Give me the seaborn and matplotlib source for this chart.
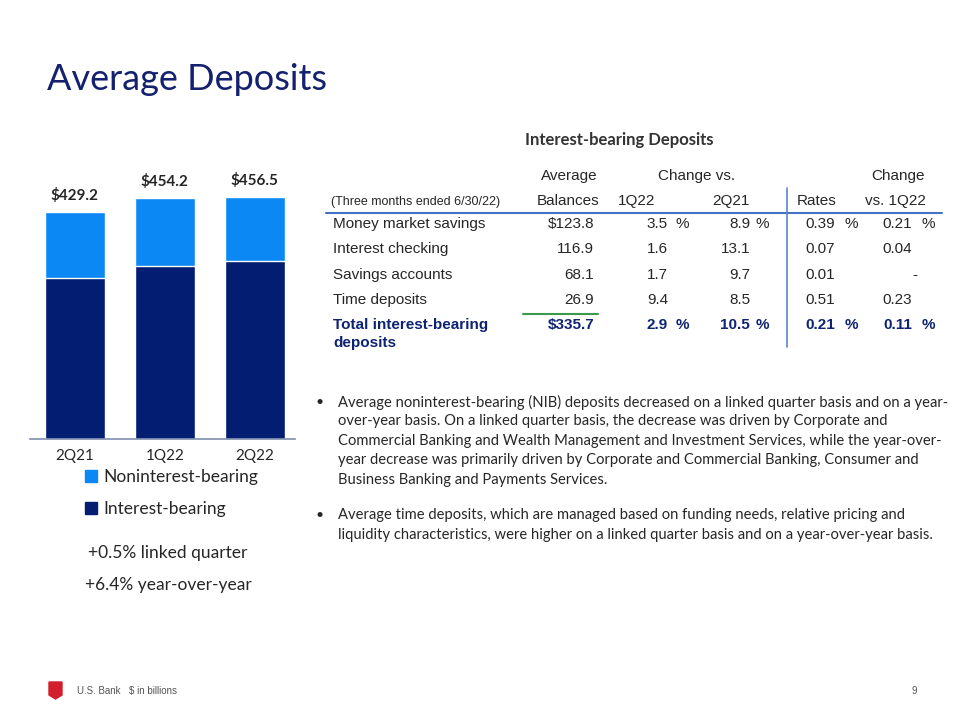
import matplotlib

matplotlib.use("Agg")

import matplotlib.pyplot as plt
import seaborn as sns
from matplotlib.patches import Polygon, Patch
from matplotlib.lines import Line2D

# ---- data -------------------------------------------------------------
quarters = ["2Q21", "1Q22", "2Q22"]
interest_bearing = [303.8, 326.2, 335.7]
noninterest_bearing = [125.4, 128.0, 120.8]
totals = [ib + nib for ib, nib in zip(interest_bearing, noninterest_bearing)]

row_labels = ["Money market savings", "Interest checking", "Savings accounts", "Time deposits"]
avg_balances = ["$123.8", "116.9", "68.1", "26.9"]
chg_vs_1q22 = ["3.5", "1.6", "1.7", "9.4"]
chg_vs_2q21 = ["8.9", "13.1", "9.7", "8.5"]
rates = ["0.39", "0.07", "0.01", "0.51"]
rate_chg_vs_1q22 = ["0.21", "0.04", "-", "0.23"]
total_row = ["$335.7", "2.9", "10.5", "0.21", "0.11"]

bullets = [
    [
        "Average noninterest-bearing (NIB) deposits decreased on a linked quarter basis and on a year-",
        "over-year basis. On a linked quarter basis, the decrease was driven by Corporate and",
        "Commercial Banking and Wealth Management and Investment Services, while the year-over-",
        "year decrease was primarily driven by Corporate and Commercial Banking, Consumer and",
        "Business Banking and Payments Services.",
    ],
    [
        "Average time deposits, which are managed based on funding needs, relative pricing and",
        "liquidity characteristics, were higher on a linked quarter basis and on a year-over-year basis.",
    ],
]

LIGHT = "#0B88F3"
DARK = "#021D72"
NAVY = "#14216E"
TEXT = "#262626"
CAL = ["Lato", "DejaVu Sans"]
ARIAL = ["Liberation Sans", "DejaVu Sans"]

W, H = 960, 720

sns.set_theme(style="white")
plt.rcParams["font.family"] = CAL

fig = plt.figure(figsize=(9.6, 7.2), dpi=100)


def put(x, y, s, **kw):
    kw.setdefault("va", "center")
    return fig.text(x / W, 1 - y / H, s, **kw)


def hline(x0, x1, y, color, lw):
    fig.add_artist(Line2D([x0 / W, x1 / W], [1 - y / H, 1 - y / H], color=color, lw=lw))


def vline(x, y0, y1, color, lw):
    fig.add_artist(Line2D([x / W, x / W], [1 - y0 / H, 1 - y1 / H], color=color, lw=lw))


# ---- title ------------------------------------------------------------
put(47, 80, "Average Deposits", fontsize=26, color=NAVY, family=CAL)

# ---- stacked bars -------------------------------------------------------
ax = fig.add_axes([30 / W, 1 - 439 / H, 265 / W, 289 / H])
sns.barplot(x=quarters, y=totals, color=LIGHT, width=0.667, ax=ax, saturation=1)
sns.barplot(x=quarters, y=interest_bearing, color=DARK, width=0.667, ax=ax, saturation=1)
ax.set_xlim(-0.5, 2.45)
ax.set_ylim(0, 545.7)
ax.set_yticks([])
ax.set_ylabel("")
for side in ["top", "left", "right"]:
    ax.spines[side].set_visible(False)
ax.spines["bottom"].set_color("#7F8FAF")
ax.spines["bottom"].set_linewidth(1.2)
ax.tick_params(axis="x", length=0, pad=7, labelsize=11, labelcolor=TEXT)
for i, t in enumerate(totals):
    ax.annotate(f"${t:.1f}", (i, t), xytext=(0, 12), textcoords="offset points",
                ha="center", va="center", fontsize=11, fontweight="bold", color=TEXT)

handles = [Patch(color=LIGHT), Patch(color=DARK)]
fig.legend(handles, ["Noninterest-bearing", "Interest-bearing"],
           loc="center left", bbox_to_anchor=(69 / W, 1 - 493 / H), frameon=False,
           handlelength=0.7, handleheight=0.7, handletextpad=0.4, labelspacing=0.9,
           prop={"family": CAL, "size": 12.5}, labelcolor=TEXT)

put(168, 553, "+0.5% linked quarter", ha="center", fontsize=12.5, color=TEXT)
put(168, 585, "+6.4% year-over-year", ha="center", fontsize=12.5, color=TEXT)

# ---- table --------------------------------------------------------------
put(619, 140, "Interest-bearing Deposits", ha="center", fontsize=12, fontweight="bold", color="#333333")

tk = dict(family=ARIAL, fontsize=11, color=TEXT)
put(569, 176, "Average", ha="center", **tk)
put(697, 176, "Change vs.", ha="center", **tk)
put(898, 176, "Change", ha="center", **tk)
put(331, 202, "(Three months ended 6/30/22)", ha="left", family=ARIAL, fontsize=9, color=TEXT)
put(568, 201, "Balances", ha="center", **tk)
put(637, 201, "1Q22", ha="center", **tk)
put(731, 201, "2Q21", ha="center", **tk)
put(817, 201, "Rates", ha="center", **tk)
put(895, 201, "vs. 1Q22", ha="center", **tk)

hline(326, 942, 213, "#4472C4", 1.5)
vline(787, 188, 347, "#5B85D0", 1.2)

num_right = [594, 668, 750, 835, 912]
pct_x = [682, 762, 851, 928]
row_y = [224, 249, 275, 300]
for r, y in enumerate(row_y):
    put(333, y, row_labels[r], ha="left", **tk)
    vals = [avg_balances[r], chg_vs_1q22[r], chg_vs_2q21[r], rates[r], rate_chg_vs_1q22[r]]
    for c, v in enumerate(vals):
        xr = num_right[c] + (5 if v == "-" else 0)
        put(xr, y, v, ha="right", **tk)
    if r == 0:
        for px in pct_x:
            put(px, y, "%", ha="center", **tk)

hline(523, 598, 314, "#3A9A4A", 1.5)
tb = dict(family=ARIAL, fontsize=11, color="#0E2372", fontweight="bold")
put(333, 325, "Total interest-bearing", ha="left", **tb)
put(333, 343, "deposits", ha="left", **tb)
for c, v in enumerate(total_row):
    put(num_right[c], 325, v, ha="right", **tb)
for px in pct_x:
    put(px, 325, "%", ha="center", **tb)

# ---- bullets ------------------------------------------------------------
y = 402
for para in bullets:
    put(320, y, "•", ha="center", fontsize=10, color=TEXT)
    for line in para:
        put(338, y, line, ha="left", fontsize=10.6, color=TEXT)
        y += 19.5
    y += 15.5

# ---- footer -------------------------------------------------------------
fig.add_artist(Polygon([(49 / W, 1 - 682 / H), (62 / W, 1 - 682 / H), (62 / W, 1 - 695 / H),
                        (55.5 / W, 1 - 699 / H), (49 / W, 1 - 695 / H)],
                       closed=True, color="#D21F2B", transform=fig.transFigure))
ft = dict(family=ARIAL, fontsize=7, color="#555555")
put(77, 691, "U.S. Bank", ha="left", **ft)
put(129, 691, "$ in billions", ha="left", **ft)
put(914, 691, "9", ha="center", **ft)

fig.savefig("out.png", dpi=100)
